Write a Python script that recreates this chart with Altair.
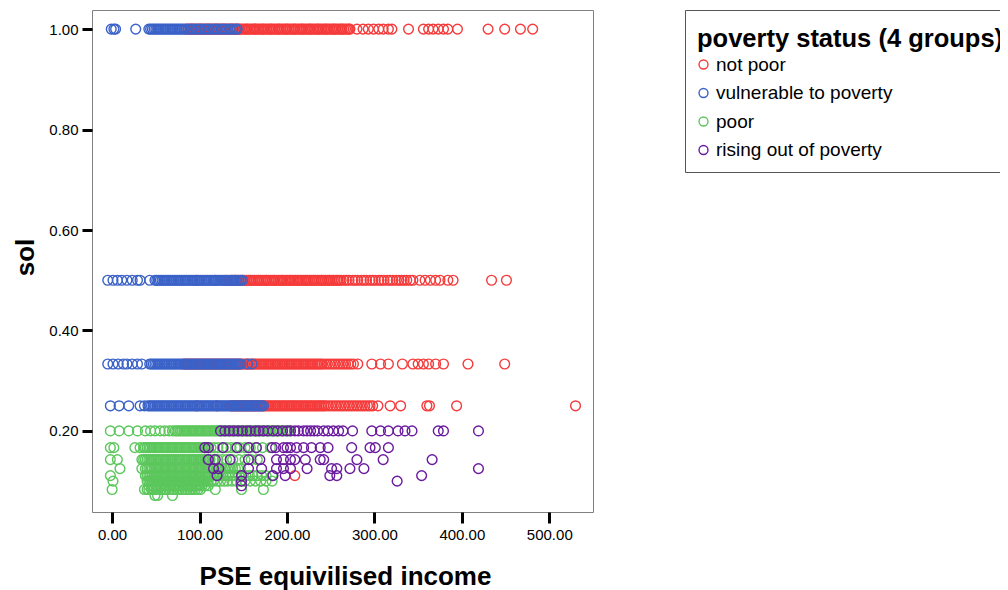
import altair as alt
import pandas as pd

groups = ["not poor", "vulnerable to poverty", "poor", "rising out of poverty"]
colors = ["#F53B3B", "#3A62C8", "#5CC75C", "#6A1A9E"]

x_ticks = [0, 100, 200, 300, 400, 500]
y_ticks = [0.2, 0.4, 0.6, 0.8, 1.0]

# ---- not poor (red) : x values per sol level ----
np_100 = [85, 87, 89, 91, 92, 94, 96, 98, 100, 101, 103, 105, 107, 109, 110, 112, 114, 116, 118, 119,
          121, 123, 125, 127, 128, 130, 132, 134, 136, 137, 139, 141, 143, 145, 146, 148, 150, 152, 154,
          155, 157, 159, 161, 163, 164, 166, 168, 170, 172, 173, 175, 177, 179, 181, 182, 184, 186, 188,
          190, 191, 193, 195, 197, 199, 200, 202, 204, 206, 208, 209, 211, 213, 215, 217, 218, 220, 222,
          224, 226, 227, 229, 231, 233, 235, 236, 238, 240, 242, 244, 245, 247, 249, 251, 253, 254, 256,
          258, 260, 262, 263, 265, 267, 269, 271, 272,
          280, 287, 293, 299, 305, 310, 316, 320, 339, 356, 362, 367, 373, 379, 384, 395, 430, 449, 467, 481]
np_050 = [97, 118, 130, 136, 138, 140, 141, 143, 145, 147, 149, 150, 152, 154, 156, 158, 159, 161, 163,
          165, 167, 168, 170, 172, 174, 176, 177, 179, 181, 183, 185, 186, 188, 190, 192, 194, 195, 197,
          199, 201, 203, 204, 206, 208, 210, 212, 213, 215, 217, 219, 221, 222, 224, 226, 228, 230, 231,
          233, 235, 237, 239, 240, 242, 244, 246, 248, 249, 251, 253, 255, 257, 258, 260, 262,
          265, 268, 271, 275, 278, 281, 285, 288, 291, 295, 298, 301, 305, 308, 311, 315, 318, 321, 325,
          328, 331, 334, 337, 341, 344, 352, 358, 364, 370, 375, 384, 390, 434, 451]
np_033 = [82, 84, 86, 88, 90, 92, 94, 96, 98, 100, 102, 104, 106, 108, 110, 112, 114, 116, 118, 120, 122,
          124, 126, 128, 130, 132, 134, 136, 138, 140, 142, 144, 146, 148, 150, 152, 154, 156, 158, 160,
          162, 164, 166, 168, 170, 172, 174, 176, 178, 180, 182, 184, 186, 188, 190, 192, 194, 196, 198,
          200, 202, 204, 206, 208, 210, 212, 214, 216, 218, 220, 222, 224, 226, 228, 230, 232, 234, 236,
          238, 240, 243, 246, 249, 252, 255, 258, 261, 264, 267, 270, 273, 276, 281, 297, 307, 316, 332,
          344, 350, 356, 362, 370, 379, 407, 449]
np_025 = [97, 120, 136, 138, 140, 142, 144, 146, 148, 150, 152, 154, 156, 158, 160, 162, 164, 166, 168,
          170, 172, 174, 176, 178, 180, 182, 184, 186, 188, 190, 192, 194, 196, 198, 200, 202, 204, 206,
          208, 210, 212, 214, 216, 218, 220, 222, 224, 226, 228, 230, 232, 234, 236, 238, 240, 242, 244,
          247, 250, 253, 256, 259, 262, 265, 268, 271, 274, 277, 280, 283, 286, 289, 292, 295, 298, 304,
          318, 330, 360, 363, 394, 530]
np_011 = [209]

# ---- vulnerable to poverty (blue) ----
vu_100 = [-1, 2, 4, 27, 42, 44, 46, 48, 50, 52, 54, 56, 58, 60, 62, 64, 66, 68, 70, 72, 74, 76, 78, 80,
          82, 84, 87, 90, 93, 96, 99, 102, 105, 108, 111, 114, 117, 120, 123, 126, 129, 132, 135, 138,
          141, 143]
vu_050 = [-5, 1, 6, 11, 17, 23, 29, 32, 43, 49, 51, 53, 55, 57, 59, 61, 63, 65, 67, 69, 71, 73, 75, 77,
          79, 81, 83, 85, 87, 89, 91, 93, 95, 97, 99, 101, 103, 105, 107, 109, 111, 113, 115, 117, 119,
          121, 123, 125, 127, 129, 131, 133, 135, 137, 139, 141, 143, 145, 147, 149]
vu_033 = [-5, 1, 7, 13, 17, 23, 29, 34, 43, 45, 47, 49, 51, 53, 55, 57, 59, 61, 63, 65, 67, 69, 71, 73,
          75, 77, 79, 81, 83, 85, 87, 89, 91, 93, 95, 97, 99, 101, 103, 105, 107, 109, 111, 113, 115,
          117, 119, 121, 123, 125, 127, 129, 131, 133, 135, 137, 139, 141, 143, 145, 147, 155, 160]
vu_025 = [-2, 8, 19, 32, 37, 41, 43, 45, 47, 49, 51, 53, 55, 57, 59, 61, 63, 65, 67, 69, 71, 73, 75, 77,
          79, 81, 83, 85, 87, 89, 91, 93, 95, 97, 99, 101, 103, 105, 107, 109, 111, 113, 115, 117, 119,
          121, 123, 125, 127, 129, 131, 133, 135, 137, 139, 141, 143, 145, 147, 149, 151, 153, 155, 157,
          159, 161, 163, 165, 167, 169, 171, 173]

# ---- poor (green) ----
po_020 = [-2, 8, 19, 29, 38, 44, 49, 55, 60, 65, 69, 72, 74, 76, 78, 80, 82, 84, 86, 88, 90, 92, 94, 96,
          98, 100, 102, 104, 106, 108, 110, 112, 114, 116, 118, 120, 122, 124, 126, 128, 130, 132, 134,
          136, 138, 140, 142, 144, 146, 148, 150, 152, 154, 156, 158, 160, 162, 164, 166, 168, 170, 172,
          174, 176, 178, 180, 182, 184, 186, 188, 190, 192, 195, 198, 201, 204]
po_017 = [-2, 2, 26, 32, 36, 38, 40, 42, 44, 46, 48, 50, 52, 54, 56, 58, 60, 62, 64, 66, 68, 70, 72, 74,
          76, 78, 80, 82, 84, 86, 88, 90, 92, 94, 96, 98, 100, 102, 104, 106, 108, 110, 113, 117, 121,
          126, 131, 136, 141, 146, 152, 158, 165, 172, 181]
po_014 = [-2, 6, 34, 36, 38, 40, 42, 44, 46, 48, 50, 52, 54, 56, 58, 60, 62, 64, 66, 68, 70, 72, 74, 76,
          78, 80, 82, 84, 86, 88, 90, 92, 94, 96, 98, 100, 102, 104, 106, 108, 110, 112, 116, 121, 126,
          131, 138, 145, 152, 159, 166]
po_0125 = [9, 34, 38, 40, 42, 44, 46, 48, 50, 52, 54, 56, 58, 60, 62, 64, 66, 68, 70, 72, 74, 76, 78, 80,
           82, 84, 86, 88, 90, 92, 94, 96, 98, 100, 102, 104, 106, 108, 110, 112, 114, 117, 120, 123,
           126, 129, 132, 135, 138, 141, 144, 147]
po_011 = [-2, 38, 40, 42, 44, 46, 48, 50, 52, 54, 56, 58, 60, 62, 64, 66, 68, 70, 72, 74, 76, 78, 80, 82,
          84, 86, 88, 90, 92, 94, 96, 98, 100, 102, 104, 106, 108, 110, 112, 115, 118, 121, 124, 127,
          130, 133, 137, 141, 145, 149, 153, 157, 161, 166, 171, 176, 183]
po_010 = [1, 40, 42, 44, 46, 48, 50, 52, 54, 56, 58, 60, 62, 64, 66, 68, 70, 72, 74, 76, 78, 80, 82, 84,
          86, 88, 90, 92, 94, 96, 98, 100, 102, 104, 106, 108, 110, 113, 116, 120, 124, 128, 132, 137,
          142, 147, 152, 158, 164, 170, 176, 183]
po_009 = [42, 45, 47, 50, 52, 55, 57, 60, 62, 65, 67, 70, 72, 75, 77, 80, 82, 85, 87, 90, 92, 95, 97,
          100, 103, 106, 110]
po_008 = [0, 37, 40, 42, 45, 47, 50, 53, 56, 59, 62, 65, 68, 71, 74, 77, 80, 83, 86, 89, 92, 95, 98,
          101, 118, 148, 173]
po_007 = [49, 52, 69]

# ---- rising out of poverty (purple) ----
ri_020 = [124, 129, 134, 139, 144, 149, 154, 158, 164, 168, 173, 178, 184, 189, 195, 200, 204, 209, 213,
          219, 223, 227, 231, 235, 242, 247, 253, 259, 264, 275, 297, 307, 316, 327, 335, 343, 373, 379, 419]
ri_017 = [106, 110, 127, 143, 156, 165, 183, 187, 196, 200, 204, 211, 219, 228, 238, 247, 274, 295, 301, 316]
ri_014 = [110, 118, 135, 156, 169, 188, 196, 204, 209, 221, 238, 242, 280, 310, 366]
ri_0125 = [116, 122, 156, 171, 188, 196, 204, 223, 251, 257, 272, 288, 419]
ri_011 = [120, 148, 184, 198, 249, 257, 354]
ri_010 = [148, 326]
ri_009 = [148]

series = [
    ("not poor", 1.0, np_100), ("not poor", 0.5, np_050), ("not poor", 0.3333, np_033),
    ("not poor", 0.25, np_025), ("not poor", 0.1111, np_011),
    ("vulnerable to poverty", 1.0, vu_100), ("vulnerable to poverty", 0.5, vu_050),
    ("vulnerable to poverty", 0.3333, vu_033), ("vulnerable to poverty", 0.25, vu_025),
    ("poor", 0.2, po_020), ("poor", 0.1667, po_017), ("poor", 0.1429, po_014), ("poor", 0.125, po_0125),
    ("poor", 0.1111, po_011), ("poor", 0.1, po_010), ("poor", 0.0909, po_009), ("poor", 0.0833, po_008),
    ("poor", 0.0714, po_007),
    ("rising out of poverty", 0.2, ri_020), ("rising out of poverty", 0.1667, ri_017),
    ("rising out of poverty", 0.1429, ri_014), ("rising out of poverty", 0.125, ri_0125),
    ("rising out of poverty", 0.1111, ri_011), ("rising out of poverty", 0.1, ri_010),
    ("rising out of poverty", 0.0909, ri_009),
]

rows = []
for status, level, xs in series:
    for v in xs:
        rows.append({"status": status, "income": v, "sol": level})
df = pd.DataFrame(rows)

FONT = "Liberation Sans"

chart = alt.Chart(df).mark_point(
    shape="circle", filled=False, size=95, strokeWidth=1.4, opacity=1
).encode(
    x=alt.X("income:Q",
            scale=alt.Scale(domain=[-23, 550], nice=False, zero=False),
            axis=alt.Axis(values=x_ticks, format=".2f", title="PSE equivilised income",
                          domain=False, grid=False, tickColor="black", tickWidth=3, tickSize=11,
                          labelFont=FONT, labelFontSize=15, labelColor="black", labelPadding=4,
                          titleFont=FONT, titleFontSize=26, titleFontWeight="bold", titleColor="black",
                          titleX=253, titleY=72, titleBaseline="alphabetic", titleAlign="center")),
    y=alt.Y("sol:Q",
            scale=alt.Scale(domain=[0.0386, 1.038], nice=False, zero=False),
            axis=alt.Axis(values=y_ticks, format=".2f", title="sol",
                          domain=False, grid=False, tickColor="black", tickWidth=3, tickSize=10,
                          labelFont=FONT, labelFontSize=15, labelColor="black", labelPadding=4,
                          titleFont=FONT, titleFontSize=26, titleFontWeight="bold", titleColor="black",
                          titleX=-59, titleY=247, titleBaseline="alphabetic", titleAlign="center",
                          titleAngle=270)),
    color=alt.Color("status:N",
                    scale=alt.Scale(domain=groups, range=colors),
                    sort=groups,
                    legend=alt.Legend(
                        title="poverty status (4 groups)", orient="none", legendX=593, legendY=0,
                        titleFont=FONT, titleFontSize=25.5, titleFontWeight="bold", titleColor="black",
                        titleLimit=600, titleBaseline="line-top", titleLineHeight=35, titlePadding=7.5,
                        labelFont=FONT, labelFontSize=19, labelColor="black", labelLimit=500,
                        labelOffset=3, symbolOffset=-3, symbolType="circle", symbolSize=80,
                        symbolStrokeWidth=1.4,
                        rowPadding=8.5, padding=12, strokeColor="#555555", fillColor="white")),
).properties(
    width=501, height=502,
    padding={"left": 84, "top": 2, "right": 407, "bottom": 78},
    autosize=alt.AutoSizeParams(type="none"),
).configure_view(
    stroke="#808080", strokeWidth=1
)

chart.save("out.html", embed_options={"renderer": "svg", "actions": False})
